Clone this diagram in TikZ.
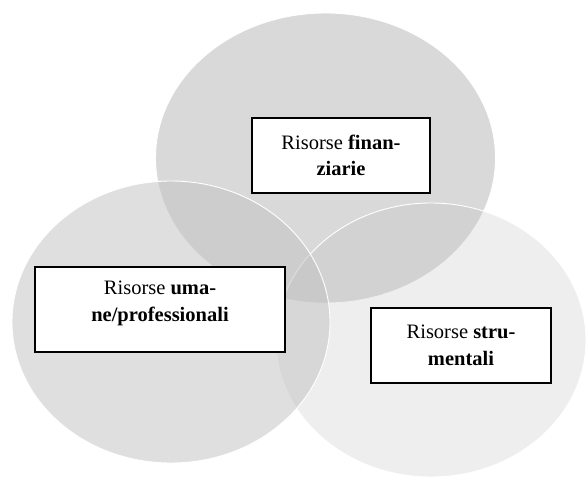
\documentclass[tikz,border=0pt]{standalone}
\usepackage{fontspec}
\setmainfont{Liberation Serif}
\begin{document}
\begin{tikzpicture}[x=1pt,y=-1pt,
  blob/.style={fill={rgb,255:red,192;green,192;blue,192}, draw=white, line width=0.9pt},
  resbox/.style={draw=black, fill=white, line width=1.3pt, rectangle, inner sep=0pt,
    align=center, font=\fontsize{20.5}{26.5}\selectfont}]
  \useasboundingbox (0,0) rectangle (586,477);
  % three overlapping translucent ellipses
  \path[blob, fill opacity=0.60] (325.5,158) ellipse [x radius=170pt, y radius=145pt];
  \path[blob, fill opacity=0.27] (431,340) ellipse [x radius=155pt, y radius=137pt];
  \path[blob, fill opacity=0.50] (171,322) ellipse [x radius=159pt, y radius=141pt];
  % labels
  \node[resbox, minimum width=178pt, minimum height=75pt] (fin) at (341,155.5)
    {Risorse \textbf{finan-}\\\textbf{ziarie}};
  \node[resbox, minimum width=180pt, minimum height=75pt] (str) at (461,345.5)
    {Risorse \textbf{stru-}\\\textbf{mentali}};
  \node[resbox, minimum width=250pt, minimum height=85pt] (uma) at (160,309.5)
    {\parbox[c][85pt][c]{250pt}{\centering Risorse \textbf{uma-}\\\textbf{ne/professionali}\par\vspace{12pt}}};
\end{tikzpicture}
\end{document}
